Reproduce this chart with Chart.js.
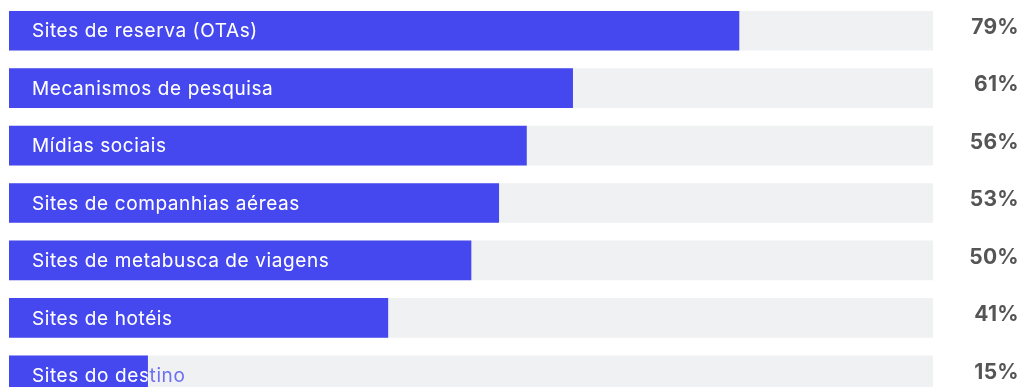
<!DOCTYPE html>
<html>
<head>
<meta charset="utf-8">
<script src="https://cdn.jsdelivr.net/npm/chart.js@4/dist/chart.umd.min.js"></script>
<style>
  html, body { margin: 0; padding: 0; background: #fff; overflow: hidden; }
  #wrap { position: relative; width: 1021px; height: 404px; }
</style>
</head>
<body>
<div id="wrap"><canvas id="chart"></canvas></div>
<script>
// dados do gráfico
const categorias = [
    'Sites de reserva (OTAs)',
    'Mecanismos de pesquisa',
    'Mídias sociais',
    'Sites de companhias aéreas',
    'Sites de metabusca de viagens',
    'Sites de hotéis',
    'Sites do destino'
];
const valores = [79, 61, 56, 53, 50, 41, 15];
const fundo = categorias.map(() => 100); // trilho cinza (100%)

const AZUL = '#4548EE';
const CINZA = '#F0F1F3';

// Plugin para escrever os rótulos dentro das barras e as porcentagens à direita
const rotulosPlugin = {
    id: 'rotulos',
    afterDatasetsDraw(chart) {
        const ctx = chart.ctx;
        const meta = chart.getDatasetMeta(1);
        ctx.save();
        meta.data.forEach((bar, i) => {
            const y = bar.y;
            const top = y - bar.height / 2;
            // rótulo: azul fora da barra, branco por cima dela
            ctx.font = '19px Inter';
            ctx.letterSpacing = '0.6px';
            ctx.textBaseline = 'middle';
            ctx.textAlign = 'left';
            ctx.fillStyle = '#6E70F2';
            ctx.fillText(categorias[i], 32, y + 1);
            ctx.save();
            ctx.beginPath();
            ctx.rect(bar.base, top, bar.x - bar.base, bar.height);
            ctx.clip();
            ctx.fillStyle = '#ffffff';
            ctx.fillText(categorias[i], 32, y + 1);
            ctx.restore();
            // porcentagem
            ctx.font = 'bold 21px Inter';
            ctx.letterSpacing = '0.3px';
            ctx.textAlign = 'right';
            ctx.fillStyle = '#555555';
            ctx.fillText(valores[i] + '%', 1019, y - 3);
        });
        ctx.restore();
    }
};

new Chart(document.getElementById('chart'), {
    type: 'bar',
    data: {
        labels: categorias,
        datasets: [
            {
                data: fundo,
                backgroundColor: CINZA,
                barThickness: 39,
                grouped: false,
                order: 2
            },
            {
                data: valores,
                backgroundColor: AZUL,
                barThickness: 39,
                grouped: false,
                order: 1
            }
        ]
    },
    options: {
        indexAxis: 'y',
        responsive: true,
        maintainAspectRatio: false,
        animation: false,
        layout: { padding: { left: 9, right: 88, top: 2, bottom: 0 } },
        plugins: {
            legend: { display: false },
            tooltip: { enabled: false }
        },
        scales: {
            x: { display: false, min: 0, max: 100 },
            y: { display: false }
        }
    },
    plugins: [rotulosPlugin]
});
</script>
</body>
</html>
